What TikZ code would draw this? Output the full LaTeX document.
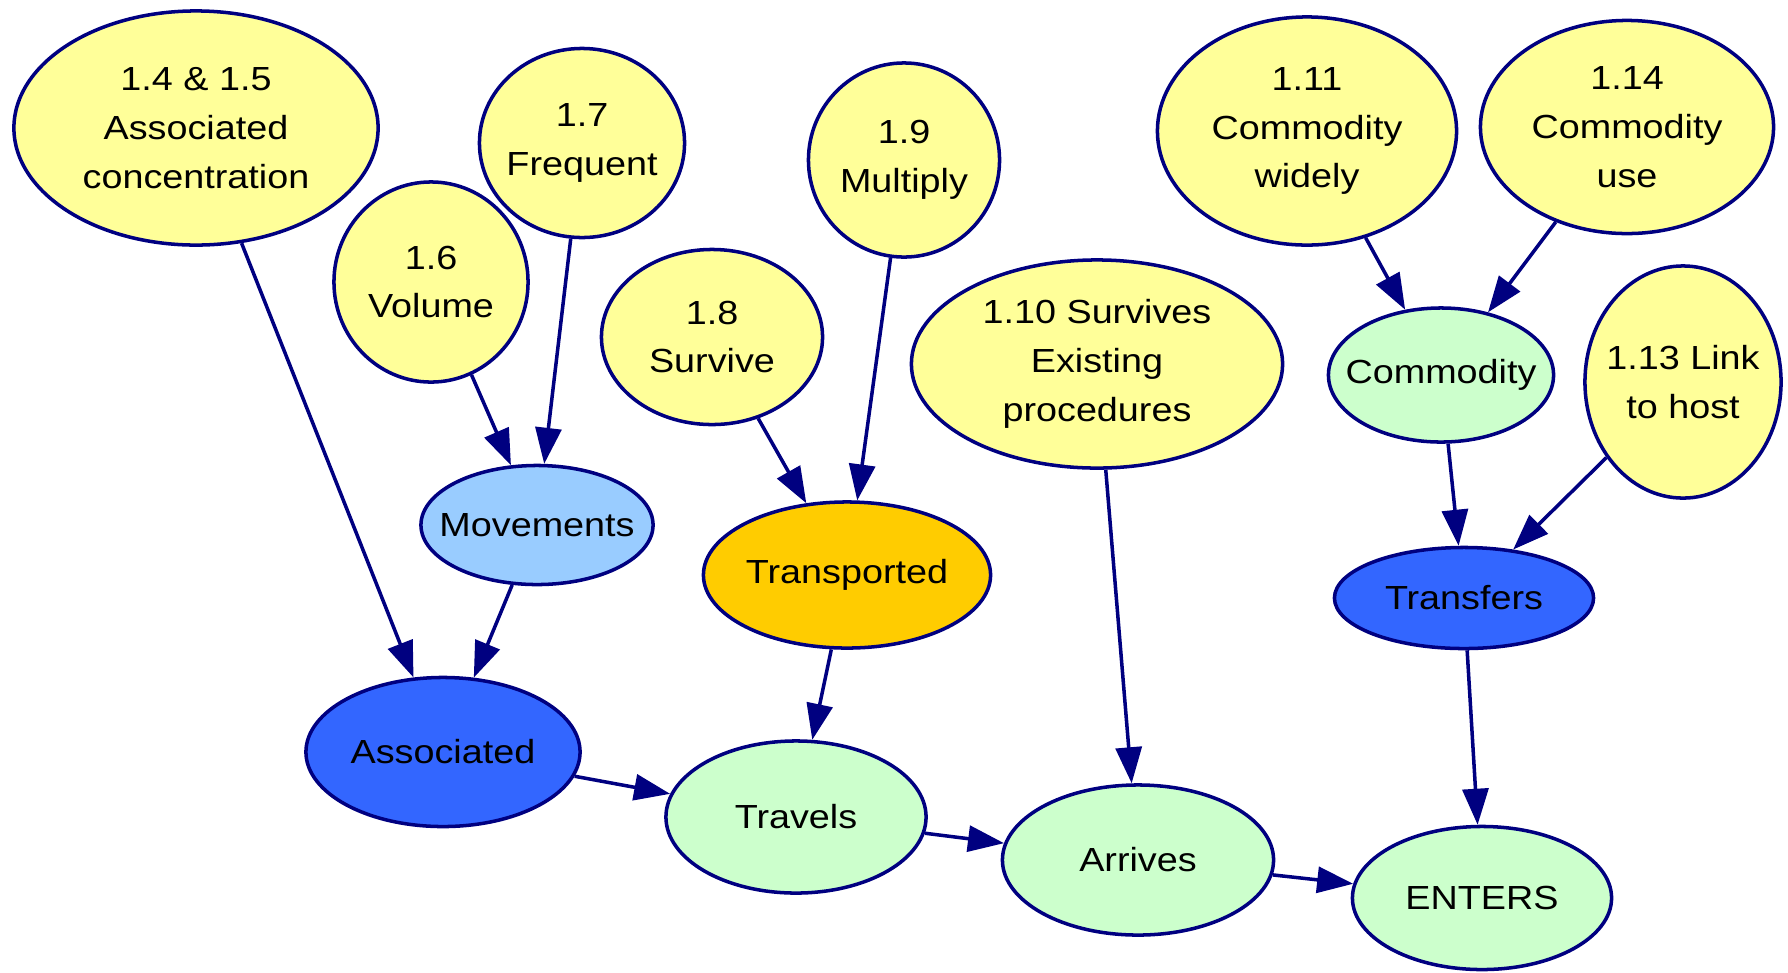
\documentclass[tikz,border=0pt]{standalone}
\usepackage{fontspec}
\setmainfont{Liberation Sans}[FakeStretch=1.13]
\usepackage{xcolor}
\usepackage{tikz}
\usetikzlibrary{shapes.geometric, arrows.meta}
\definecolor{navy}{HTML}{000080}
\definecolor{qyellow}{HTML}{FFFF99}
\definecolor{stgreen}{HTML}{CCFFCC}
\definecolor{mvblue}{HTML}{99CCFF}
\definecolor{trorange}{HTML}{FFCC00}
\definecolor{keyblue}{HTML}{3366FF}
\tikzset{
  base/.style    = {ellipse, draw=navy, line width=1pt, inner sep=0pt},
  txt/.style     = {align=center, inner sep=0pt, font=\fontsize{9.5}{13.9}\selectfont},
  question/.style= {base, fill=qyellow},
  stage/.style   = {base, fill=stgreen},
  sub/.style     = {base, fill=mvblue},
  carrier/.style = {base, fill=trorange},
  keyev/.style   = {base, fill=keyblue},
  arr/.style     = {-{Triangle[length=3.6mm, width=2.6mm]}, line width=1pt, draw=navy}
}

\begin{document}
\begin{tikzpicture}[x=0.01cm, y=-0.01cm]
  \useasboundingbox (0,0) rectangle (1788,972);
  % questions
  \node[question, minimum width=3.64cm, minimum height=2.34cm, label={[txt]center:1.4 \& 1.5\\Associated\\concentration}] (q45) at (196,128) {};
  \node[question, minimum width=2.05cm, minimum height=1.89cm, label={[txt]center:1.7\\Frequent}] (q17) at (582,143) {};
  \node[question, minimum width=1.94cm, minimum height=2.00cm, label={[txt]center:1.6\\Volume}] (q16) at (431,282) {};
  \node[question, minimum width=1.91cm, minimum height=1.94cm, label={[txt]center:1.9\\Multiply}] (q19) at (904,160) {};
  \node[question, minimum width=2.21cm, minimum height=1.75cm, label={[txt]center:1.8\\Survive}] (q18) at (712,337) {};
  \node[question, minimum width=3.71cm, minimum height=2.08cm, label={[txt]center:1.10 Survives\\Existing\\procedures}] (q110) at (1097,364) {};
  \node[question, minimum width=2.99cm, minimum height=2.28cm, label={[txt]center:1.11\\Commodity\\widely}] (q111) at (1307,131) {};
  \node[question, minimum width=2.93cm, minimum height=2.13cm, label={[txt]center:1.14\\Commodity\\use}] (q114) at (1627,127) {};
  \node[question, minimum width=1.96cm, minimum height=2.32cm, label={[txt]center:1.13 Link\\to host}] (q113) at (1683,382) {};
  % pathway
  \node[stage,   minimum width=2.25cm, minimum height=1.34cm, label={[txt]center:Commodity}]   (comm)   at (1441,375) {};
  \node[sub,     minimum width=2.32cm, minimum height=1.19cm, label={[txt]center:Movements}]   (move)   at (537,525)  {};
  \node[carrier, minimum width=2.87cm, minimum height=1.46cm, label={[txt]center:Transported}] (transp) at (847,575)  {};
  \node[keyev,   minimum width=2.59cm, minimum height=1.01cm, label={[txt]center:Transfers}]   (transf) at (1464,598) {};
  \node[keyev,   minimum width=2.74cm, minimum height=1.49cm, label={[txt]center:Associated}]  (assoc)  at (443,752)  {};
  \node[stage,   minimum width=2.60cm, minimum height=1.52cm, label={[txt]center:Travels}]     (travel) at (796,817)  {};
  \node[stage,   minimum width=2.71cm, minimum height=1.50cm, label={[txt]center:Arrives}]     (arrive) at (1138,860) {};
  \node[stage,   minimum width=2.59cm, minimum height=1.43cm, label={[txt]center:ENTERS}]      (enters) at (1482,898) {};
  % links
  \draw[arr] (q45)--(assoc); \draw[arr] (q16)--(move); \draw[arr] (q17)--(move);
  \draw[arr] (move)--(assoc); \draw[arr] (assoc)--(travel);
  \draw[arr] (q18)--(transp); \draw[arr] (q19)--(transp); \draw[arr] (transp)--(travel);
  \draw[arr] (travel)--(arrive); \draw[arr] (q110)--(arrive); \draw[arr] (arrive)--(enters);
  \draw[arr] (q111)--(comm); \draw[arr] (q114)--(comm); \draw[arr] (comm)--(transf);
  \draw[arr] (q113)--(transf); \draw[arr] (transf)--(enters);
\end{tikzpicture}
\end{document}
